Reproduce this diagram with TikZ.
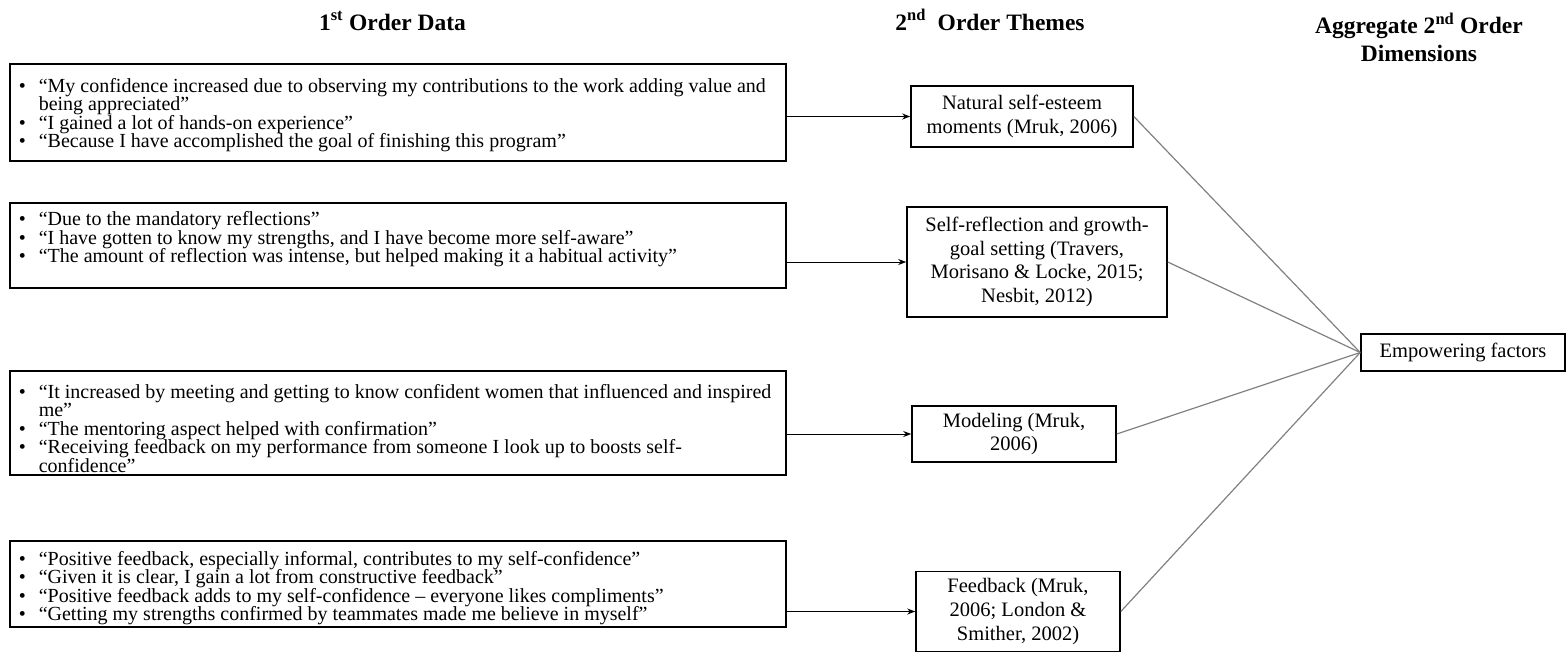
\documentclass[tikz,border=0pt]{standalone}
\usepackage{fontspec}
\setmainfont{Liberation Serif}
\usetikzlibrary{arrows.meta}
\definecolor{linegray}{RGB}{128,128,128}
\newcommand\fofont{\fontsize{20}{18.5}\selectfont}
\newcommand\sofont{\fontsize{20.5}{23.6}\selectfont}
\newcommand\hdfont{\fontsize{23.5}{27.5}\selectfont\bfseries}
\newcommand\bul[1]{\par\hangindent=29pt\hangafter=1\noindent\hspace*{9pt}\makebox[20pt][l]{\textbullet}#1}
% #1 box height, #2 top pad, #3 content
\newcommand\fotext[3]{\parbox[c][#1][t]{776pt}{\vspace*{#2}\raggedright #3}}
\tikzset{
  fobox/.style={draw, line width=1.6pt, inner sep=0pt, anchor=north west, minimum width=776pt, font=\fofont},
  sobox/.style={draw, line width=1.6pt, inner sep=0pt, align=center, font=\sofont},
  hd/.style={inner sep=0pt, font=\hdfont},
  ar/.style={-{Stealth[length=8pt,width=6pt]}, line width=1pt},
  gl/.style={draw=linegray, line width=1.2pt}
}
\begin{document}
\begin{tikzpicture}[x=1pt,y=-1pt]
\useasboundingbox (0,0) rectangle (1568,654);
% headers
\node[hd, anchor=base] (h1) at (392.5,30) {1\textsuperscript{st} Order Data};
\node[hd, anchor=base] (h2) at (990,30) {2\textsuperscript{nd}\ \ Order Themes};
\node[hd, anchor=north, align=center] (h3) at (1419,13) {Aggregate 2\textsuperscript{nd} Order\\Dimensions};
% first order boxes
\node[fobox] (b1) at (9,63) {\fotext{97pt}{14.5pt}{%
\bul{“My confidence increased due to observing my contributions to the work adding value and\newline being appreciated”}%
\bul{“I gained a lot of hands-on experience”}%
\bul{“Because I have accomplished the goal of finishing this program”}}};
\node[fobox] (b2) at (9,202) {\fotext{85pt}{9pt}{%
\bul{“Due to the mandatory reflections”}%
\bul{“I have gotten to know my strengths, and I have become more self-aware”}%
\bul{“The amount of reflection was intense, but helped making it a habitual activity”}}};
\node[fobox] (b3) at (9,370) {\fotext{104pt}{13.3pt}{%
\bul{“It increased by meeting and getting to know confident women that influenced and inspired\newline me”}%
\bul{“The mentoring aspect helped with confirmation”}%
\bul{“Receiving feedback on my performance from someone I look up to boosts self-\newline confidence”}}};
\node[fobox] (b4) at (9,540) {\fotext{86pt}{10.3pt}{%
\bul{“Positive feedback, especially informal, contributes to my self-confidence”}%
\bul{“Given it is clear, I gain a lot from constructive feedback”}%
\bul{“Positive feedback adds to my self-confidence – everyone likes compliments”}%
\bul{“Getting my strengths confirmed by teammates made me believe in myself”}}};
% second order boxes
\node[sobox, minimum width=222pt, minimum height=61pt] (n1) at (1022,116.5) {Natural self-esteem\\moments (Mruk, 2006)};
\node[sobox, minimum width=260pt, minimum height=110pt] (n2) at (1037,262) {Self-reflection and growth-\\goal setting (Travers,\\Morisano \& Locke, 2015;\\Nesbit, 2012)};
\node[sobox, minimum width=204pt, minimum height=56pt] (n3) at (1014,434) {Modeling (Mruk,\\2006)};
\node[sobox, minimum width=204pt, minimum height=80pt] (n4) at (1018,611.5) {Feedback (Mruk,\\2006; London \&\\Smither, 2002)};
% aggregate
\node[sobox, minimum width=204pt, minimum height=37pt] (e) at (1463,352.5) {Empowering factors};
% connectors
\draw[ar] (n1.west -| b1.east) -- (n1.west);
\draw[ar] (n2.west -| b2.east) -- (n2.west);
\draw[ar] (n3.west -| b3.east) -- (n3.west);
\draw[ar] (n4.west -| b4.east) -- (n4.west);
\draw[gl] (n1.east) -- (e.west);
\draw[gl] (n2.east) -- (e.west);
\draw[gl] (n3.east) -- (e.west);
\draw[gl] (n4.east) -- (e.west);
\end{tikzpicture}
\end{document}
